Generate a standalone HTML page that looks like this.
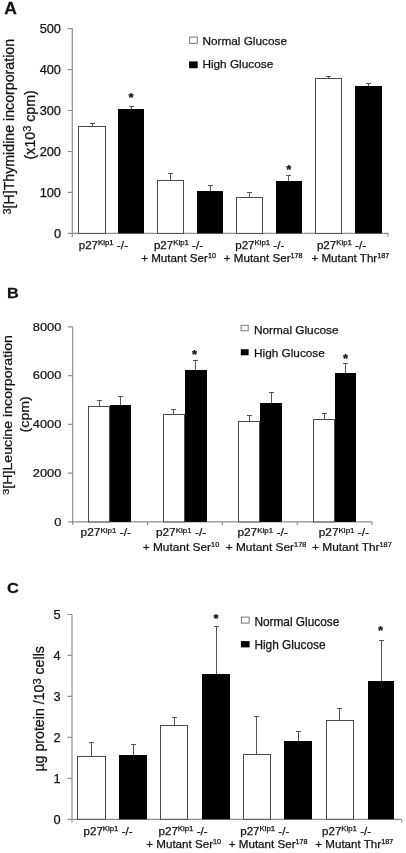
<!DOCTYPE html>
<html><head><meta charset="utf-8"><title>Figure</title>
<style>
html,body{margin:0;padding:0;background:#fff;}
svg{display:block;font-family:"Liberation Sans", Arial, sans-serif;fill:#111;}
text{stroke:#111;stroke-width:0.25px;}
</style></head><body>
<svg width="406" height="853" viewBox="0 0 406 853">
<rect width="406" height="853" fill="#fff"/>
<text transform="translate(4.3 14.2) scale(1.06 1)" font-size="16.5" text-anchor="start" font-weight="bold" >A</text>
<path d="M72.3 28.6V236.9M67.8 233.4H388M388 233.4V236.9" fill="none" stroke="#909090" stroke-width="1.2"/>
<text x="61.0" y="237.98" font-size="12.8" text-anchor="end" font-weight="normal" >0</text>
<text x="61.0" y="197.02" font-size="12.8" text-anchor="end" font-weight="normal" >100</text>
<text x="61.0" y="156.06" font-size="12.8" text-anchor="end" font-weight="normal" >200</text>
<text x="61.0" y="115.1" font-size="12.8" text-anchor="end" font-weight="normal" >300</text>
<text x="61.0" y="74.14" font-size="12.8" text-anchor="end" font-weight="normal" >400</text>
<text x="61.0" y="33.18" font-size="12.8" text-anchor="end" font-weight="normal" >500</text>
<path d="M67.8 192.44H72.3M67.8 151.48H72.3M67.8 110.52H72.3M67.8 69.56H72.3M67.8 28.6H72.3" stroke="#909090" stroke-width="1.2" fill="none"/>
<path d="M92.5 126V123.5M90.0 123.5H95.0" stroke="#555" stroke-width="1" fill="none"/>
<rect x="78.5" y="126.5" width="27.0" height="106.9" fill="#fff" stroke="#4a4a4a" stroke-width="1"/>
<path d="M131.5 109V106.5M129.0 106.5H134.0" stroke="#555" stroke-width="1" fill="none"/>
<rect x="118" y="109" width="26" height="124.4" fill="#000"/>
<text x="131.1" y="102.27" font-size="13" text-anchor="middle" font-weight="bold" >*</text>
<path d="M170.5 180V173.5M168.0 173.5H173.0" stroke="#555" stroke-width="1" fill="none"/>
<rect x="157.5" y="180.5" width="26.0" height="52.9" fill="#fff" stroke="#4a4a4a" stroke-width="1"/>
<path d="M210.5 191V185.5M208.0 185.5H213.0" stroke="#555" stroke-width="1" fill="none"/>
<rect x="197" y="191" width="26" height="42.4" fill="#000"/>
<path d="M249.5 197V192.5M247.0 192.5H252.0" stroke="#555" stroke-width="1" fill="none"/>
<rect x="236.5" y="197.5" width="26.0" height="35.9" fill="#fff" stroke="#4a4a4a" stroke-width="1"/>
<path d="M288.5 181V175.5M286.0 175.5H291.0" stroke="#555" stroke-width="1" fill="none"/>
<rect x="276" y="181" width="26" height="52.4" fill="#000"/>
<text x="288.9" y="173.57" font-size="13" text-anchor="middle" font-weight="bold" >*</text>
<path d="M328.5 78V76.5M326.0 76.5H331.0" stroke="#555" stroke-width="1" fill="none"/>
<rect x="315.5" y="78.5" width="26.0" height="154.9" fill="#fff" stroke="#4a4a4a" stroke-width="1"/>
<path d="M368.5 86V83.5M366.0 83.5H371.0" stroke="#555" stroke-width="1" fill="none"/>
<rect x="355" y="86" width="27" height="147.4" fill="#000"/>
<rect x="189.7" y="37.1" width="7.6" height="6.3" fill="#fff" stroke="#777" stroke-width="1"/>
<rect x="189.1" y="61.4" width="8.6" height="6.8" fill="#000"/>
<text x="202.4" y="45.4" font-size="11.8" text-anchor="start" font-weight="normal" >Normal Glucose</text>
<text x="202.4" y="68.3" font-size="11.8" text-anchor="start" font-weight="normal" >High Glucose</text>
<text transform="translate(14 214.6) rotate(-90) scale(1 1)" font-size="14.2" text-anchor="start"><tspan font-size="11" dy="-3.5">3</tspan><tspan font-size="14.2" dy="3.5">[H]Thymidine incorporation</tspan></text>
<text transform="translate(34.5 159.4) rotate(-90) scale(1 1)" font-size="14.2" text-anchor="start">(x10<tspan font-size="11" dy="-3.5">3</tspan><tspan font-size="14.2" dy="3.5"> cpm)</tspan></text>
<text x="78.7" y="248.6" font-size="11.6" text-anchor="start" font-weight="normal" >p27<tspan font-size="7.8" dy="-3.6">Kip1</tspan><tspan font-size="11.6" dy="3.6"> -/-</tspan></text>
<text x="153.9" y="248.6" font-size="11.6" text-anchor="start" font-weight="normal" >p27<tspan font-size="7.8" dy="-3.6">Kip1</tspan><tspan font-size="11.6" dy="3.6"> -/-</tspan></text>
<text x="141.2" y="261.8" font-size="11.6" text-anchor="start" font-weight="normal" >+ Mutant Ser<tspan font-size="7.2" dy="-3.6">10</tspan></text>
<text x="235.2" y="248.6" font-size="11.6" text-anchor="start" font-weight="normal" >p27<tspan font-size="7.8" dy="-3.6">Kip1</tspan><tspan font-size="11.6" dy="3.6"> -/-</tspan></text>
<text x="223.8" y="261.8" font-size="11.6" text-anchor="start" font-weight="normal" >+ Mutant Ser<tspan font-size="7.2" dy="-3.6">178</tspan></text>
<text x="316.9" y="248.6" font-size="11.6" text-anchor="start" font-weight="normal" >p27<tspan font-size="7.8" dy="-3.6">Kip1</tspan><tspan font-size="11.6" dy="3.6"> -/-</tspan></text>
<text x="311.4" y="261.8" font-size="11.6" text-anchor="start" font-weight="normal" >+ Mutant Thr<tspan font-size="7.2" dy="-3.6">187</tspan></text>
<text transform="translate(7.1 298.1) scale(1.05 1)" font-size="15.5" text-anchor="start" font-weight="bold" >B</text>
<path d="M72.7 326.9V524.9M68.2 521.9H372M372 521.9V524.9" fill="none" stroke="#909090" stroke-width="1.2"/>
<text transform="translate(61.400000000000006 525.7) scale(1.03 0.85)" font-size="12.5" text-anchor="end" font-weight="normal" >0</text>
<text transform="translate(61.400000000000006 476.95) scale(1.03 0.85)" font-size="12.5" text-anchor="end" font-weight="normal" >2000</text>
<text transform="translate(61.400000000000006 428.2) scale(1.03 0.85)" font-size="12.5" text-anchor="end" font-weight="normal" >4000</text>
<text transform="translate(61.400000000000006 379.45) scale(1.03 0.85)" font-size="12.5" text-anchor="end" font-weight="normal" >6000</text>
<text transform="translate(61.400000000000006 330.7) scale(1.03 0.85)" font-size="12.5" text-anchor="end" font-weight="normal" >8000</text>
<path d="M68.2 473.15H72.7M68.2 424.4H72.7M68.2 375.65H72.7M68.2 326.9H72.7M147.53 521.9V524.9M222.35 521.9V524.9M297.18 521.9V524.9" stroke="#909090" stroke-width="1.2" fill="none"/>
<path d="M99.5 406V400.5M97.0 400.5H102.0" stroke="#555" stroke-width="1" fill="none"/>
<rect x="88.5" y="406.5" width="21.0" height="115.4" fill="#fff" stroke="#4a4a4a" stroke-width="1"/>
<path d="M120.5 405V396.5M118.0 396.5H123.0" stroke="#555" stroke-width="1" fill="none"/>
<rect x="110" y="405" width="21" height="116.9" fill="#000"/>
<path d="M173.5 414V409.5M171.0 409.5H176.0" stroke="#555" stroke-width="1" fill="none"/>
<rect x="163.5" y="414.5" width="21.0" height="107.4" fill="#fff" stroke="#4a4a4a" stroke-width="1"/>
<path d="M195.5 370V360.5M193.0 360.5H198.0" stroke="#555" stroke-width="1" fill="none"/>
<rect x="185" y="370" width="22" height="151.9" fill="#000"/>
<text x="194.6" y="358.67" font-size="13" text-anchor="middle" font-weight="bold" >*</text>
<path d="M249.5 421V415.5M247.0 415.5H252.0" stroke="#555" stroke-width="1" fill="none"/>
<rect x="238.5" y="421.5" width="21.0" height="100.4" fill="#fff" stroke="#4a4a4a" stroke-width="1"/>
<path d="M271.5 403V392.5M269.0 392.5H274.0" stroke="#555" stroke-width="1" fill="none"/>
<rect x="260" y="403" width="22" height="118.9" fill="#000"/>
<path d="M324.5 419V413.5M322.0 413.5H327.0" stroke="#555" stroke-width="1" fill="none"/>
<rect x="313.5" y="419.5" width="21.0" height="102.4" fill="#fff" stroke="#4a4a4a" stroke-width="1"/>
<path d="M345.5 373V363.5M343.0 363.5H348.0" stroke="#555" stroke-width="1" fill="none"/>
<rect x="335" y="373" width="21" height="148.9" fill="#000"/>
<text x="345.5" y="362.97" font-size="13" text-anchor="middle" font-weight="bold" >*</text>
<rect x="241.1" y="325.3" width="7.1" height="5.5" fill="#fff" stroke="#777" stroke-width="1"/>
<rect x="240.8" y="349.2" width="7.8" height="6.1" fill="#000"/>
<text x="254" y="333.7" font-size="11.8" text-anchor="start" font-weight="normal" >Normal Glucose</text>
<text x="254" y="357.1" font-size="11.8" text-anchor="start" font-weight="normal" >High Glucose</text>
<text transform="translate(11.8 494.8) rotate(-90) scale(1 0.85)" font-size="14.2" text-anchor="start"><tspan font-size="11" dy="-3.5">3</tspan><tspan font-size="14.2" dy="3.5">[H]Leucine incorporation</tspan></text>
<text transform="translate(29.3 432.4) rotate(-90) scale(1 0.85)" font-size="14.2" text-anchor="start">(cpm)</text>
<text transform="translate(80.6 536.4) scale(1.025 0.93)" font-size="11.6" text-anchor="start" font-weight="normal" >p27<tspan font-size="7.8" dy="-3.6">Kip1</tspan><tspan font-size="11.6" dy="3.6"> -/-</tspan></text>
<text transform="translate(155.9 536.4) scale(1.025 0.93)" font-size="11.6" text-anchor="start" font-weight="normal" >p27<tspan font-size="7.8" dy="-3.6">Kip1</tspan><tspan font-size="11.6" dy="3.6"> -/-</tspan></text>
<text transform="translate(142.7 550.8) scale(1.025 0.93)" font-size="11.6" text-anchor="start" font-weight="normal" >+ Mutant Ser<tspan font-size="7.2" dy="-3.6">10</tspan></text>
<text transform="translate(237.4 536.4) scale(1.025 0.93)" font-size="11.6" text-anchor="start" font-weight="normal" >p27<tspan font-size="7.8" dy="-3.6">Kip1</tspan><tspan font-size="11.6" dy="3.6"> -/-</tspan></text>
<text transform="translate(225.7 550.8) scale(1.025 0.93)" font-size="11.6" text-anchor="start" font-weight="normal" >+ Mutant Ser<tspan font-size="7.2" dy="-3.6">178</tspan></text>
<text transform="translate(318.7 536.4) scale(1.025 0.93)" font-size="11.6" text-anchor="start" font-weight="normal" >p27<tspan font-size="7.8" dy="-3.6">Kip1</tspan><tspan font-size="11.6" dy="3.6"> -/-</tspan></text>
<text transform="translate(312 550.8) scale(1.025 0.93)" font-size="11.6" text-anchor="start" font-weight="normal" >+ Mutant Thr<tspan font-size="7.2" dy="-3.6">187</tspan></text>
<text transform="translate(7.1 592.7) scale(1.05 1)" font-size="15.5" text-anchor="start" font-weight="bold" >C</text>
<path d="M72 614.5V822.8M67.5 819.3H401.6M401.6 819.3V822.8" fill="none" stroke="#909090" stroke-width="1.2"/>
<text x="60.7" y="823.88" font-size="12.8" text-anchor="end" font-weight="normal" >0</text>
<text x="60.7" y="782.92" font-size="12.8" text-anchor="end" font-weight="normal" >1</text>
<text x="60.7" y="741.96" font-size="12.8" text-anchor="end" font-weight="normal" >2</text>
<text x="60.7" y="701.0" font-size="12.8" text-anchor="end" font-weight="normal" >3</text>
<text x="60.7" y="660.04" font-size="12.8" text-anchor="end" font-weight="normal" >4</text>
<text x="60.7" y="619.08" font-size="12.8" text-anchor="end" font-weight="normal" >5</text>
<path d="M67.5 778.34H72M67.5 737.38H72M67.5 696.42H72M67.5 655.46H72M67.5 614.5H72" stroke="#909090" stroke-width="1.2" fill="none"/>
<path d="M91.5 756V742.5M89.0 742.5H94.0" stroke="#555" stroke-width="1" fill="none"/>
<rect x="77.5" y="756.5" width="28.0" height="62.8" fill="#fff" stroke="#4a4a4a" stroke-width="1"/>
<path d="M133.5 755V744.5M131.0 744.5H136.0" stroke="#555" stroke-width="1" fill="none"/>
<rect x="119" y="755" width="28" height="64.3" fill="#000"/>
<path d="M174.5 725V717.5M172.0 717.5H177.0" stroke="#555" stroke-width="1" fill="none"/>
<rect x="160.5" y="725.5" width="27.0" height="93.8" fill="#fff" stroke="#4a4a4a" stroke-width="1"/>
<path d="M216.5 674V626.5M214.0 626.5H219.0" stroke="#555" stroke-width="1" fill="none"/>
<rect x="202" y="674" width="28" height="145.3" fill="#000"/>
<text x="216.1" y="622.87" font-size="13" text-anchor="middle" font-weight="bold" >*</text>
<path d="M256.5 754V716.5M254.0 716.5H259.0" stroke="#555" stroke-width="1" fill="none"/>
<rect x="243.5" y="754.5" width="27.0" height="64.8" fill="#fff" stroke="#4a4a4a" stroke-width="1"/>
<path d="M298.5 741V731.5M296.0 731.5H301.0" stroke="#555" stroke-width="1" fill="none"/>
<rect x="284" y="741" width="28" height="78.3" fill="#000"/>
<path d="M339.5 720V708.5M337.0 708.5H342.0" stroke="#555" stroke-width="1" fill="none"/>
<rect x="326.5" y="720.5" width="27.0" height="98.8" fill="#fff" stroke="#4a4a4a" stroke-width="1"/>
<path d="M381.5 681V640.5M379.0 640.5H384.0" stroke="#555" stroke-width="1" fill="none"/>
<rect x="368" y="681" width="26" height="138.3" fill="#000"/>
<text x="380.5" y="635.47" font-size="13" text-anchor="middle" font-weight="bold" >*</text>
<rect x="241.4" y="617.1" width="7.7" height="6.0" fill="#fff" stroke="#777" stroke-width="1"/>
<rect x="240.9" y="641.1" width="8.7" height="6.3" fill="#000"/>
<text x="254.4" y="625.5" font-size="11.85" text-anchor="start" font-weight="normal" >Normal Glucose</text>
<text x="254.4" y="649.2" font-size="11.85" text-anchor="start" font-weight="normal" >High Glucose</text>
<text transform="translate(44.3 771.6) rotate(-90) scale(1 1)" font-size="14.2" text-anchor="start">µg protein /10<tspan font-size="11" dy="-3.5">3</tspan><tspan font-size="14.2" dy="3.5"> cells</tspan></text>
<text x="83.5" y="834.7" font-size="11.6" text-anchor="start" font-weight="normal" >p27<tspan font-size="7.8" dy="-3.6">Kip1</tspan><tspan font-size="11.6" dy="3.6"> -/-</tspan></text>
<text x="158.5" y="834.7" font-size="11.6" text-anchor="start" font-weight="normal" >p27<tspan font-size="7.8" dy="-3.6">Kip1</tspan><tspan font-size="11.6" dy="3.6"> -/-</tspan></text>
<text x="146.3" y="847.9" font-size="11.6" text-anchor="start" font-weight="normal" >+ Mutant Ser<tspan font-size="7.2" dy="-3.6">10</tspan></text>
<text x="240.2" y="834.7" font-size="11.6" text-anchor="start" font-weight="normal" >p27<tspan font-size="7.8" dy="-3.6">Kip1</tspan><tspan font-size="11.6" dy="3.6"> -/-</tspan></text>
<text x="228.8" y="847.9" font-size="11.6" text-anchor="start" font-weight="normal" >+ Mutant Ser<tspan font-size="7.2" dy="-3.6">178</tspan></text>
<text x="322" y="834.7" font-size="11.6" text-anchor="start" font-weight="normal" >p27<tspan font-size="7.8" dy="-3.6">Kip1</tspan><tspan font-size="11.6" dy="3.6"> -/-</tspan></text>
<text x="315.3" y="847.9" font-size="11.6" text-anchor="start" font-weight="normal" >+ Mutant Thr<tspan font-size="7.2" dy="-3.6">187</tspan></text>
</svg>
</body></html>
